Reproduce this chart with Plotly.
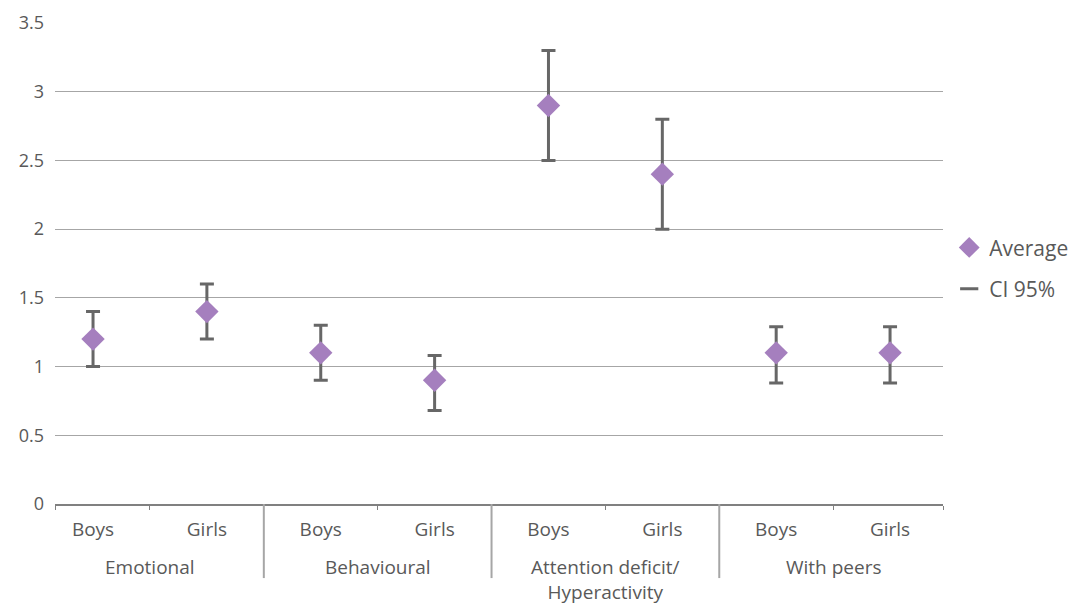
import plotly.graph_objects as go

groups = ["Emotional", "Behavioural", "Attention deficit/<br>Hyperactivity", "With peers"]
subs = ["Boys", "Girls"]
average = [1.2, 1.4, 1.1, 0.9, 2.9, 2.4, 1.1, 1.1]
ci_low = [1.0, 1.2, 0.9, 0.68, 2.5, 2.0, 0.88, 0.88]
ci_high = [1.4, 1.6, 1.3, 1.08, 3.3, 2.8, 1.29, 1.29]
y_ticks = [0, 0.5, 1, 1.5, 2, 2.5, 3, 3.5]

n = len(average)
xs = list(range(n))
tick_text = [subs[i % 2] for i in range(n)]
x_range = [-0.334, 7.465]

TEXT = "#595959"
FONT = "Open Sans"

fig = go.Figure()

fig.add_trace(go.Scatter(
    x=xs, y=average, mode="markers", name="CI 95%",
    legendgroup="b", legendrank=2,
    marker=dict(symbol="line-ew", size=13, color="#676767",
                line=dict(color="#676767", width=3)),
    error_y=dict(type="data", symmetric=False,
                 array=[h - a for h, a in zip(ci_high, average)],
                 arrayminus=[a - l for a, l in zip(average, ci_low)],
                 color="#676767", thickness=3, width=7),
))
fig.add_trace(go.Scatter(
    x=xs, y=average, mode="markers", name="Average",
    legendgroup="a", legendrank=1,
    marker=dict(symbol="diamond", size=18, color="#a57fbe", line=dict(width=0)),
))

# group dividers extending below axis
for k in range(1, len(groups)):
    xd = 2 * k - 0.5
    fig.add_shape(type="line", xref="x", yref="paper", x0=xd, x1=xd, y0=0, y1=-0.154,
                  line=dict(color="#a6a6a6", width=2), layer="above")

for k, g in enumerate(groups):
    fig.add_annotation(x=2 * k + 0.5, xref="x", y=0, yref="paper", yanchor="top",
                       yshift=-49, text=g, showarrow=False, borderpad=0,
                       font=dict(family=FONT, size=19, color=TEXT))

fig.update_layout(
    width=1071, height=598,
    margin=dict(l=47, r=136, t=15, b=102, autoexpand=False),
    plot_bgcolor="white", paper_bgcolor="white",
    font=dict(family=FONT, color=TEXT),
    showlegend=True,
    legend=dict(x=1.007, xanchor="left", y=0.49, yanchor="middle",
                traceorder="grouped", tracegroupgap=11,
                font=dict(family=FONT, size=21, color=TEXT),
                itemwidth=30),
    xaxis=dict(range=x_range, tickmode="array", tickvals=xs, ticktext=tick_text,
               ticks="", showgrid=False, zeroline=False, automargin=False,
               showline=True, linecolor="#808080", linewidth=2,
               ticklabelstandoff=7,
               tickfont=dict(family=FONT, size=19, color=TEXT),
               minor=dict(tickmode="array",
                          tickvals=[x_range[0], 0.5, 2.5, 4.5, 6.5, x_range[1]],
                          ticks="outside", ticklen=4, tickcolor="#808080", tickwidth=1,
                          showgrid=False)),
    yaxis=dict(range=[0, 3.5], tickmode="array", tickvals=y_ticks,
               showgrid=True, gridcolor="#a6a6a6", gridwidth=1, zeroline=False,
               showline=False, ticks="", ticklabelstandoff=10, automargin=False,
               tickfont=dict(family=FONT, size=18, color=TEXT)),
)

fig.write_html("out.html")
